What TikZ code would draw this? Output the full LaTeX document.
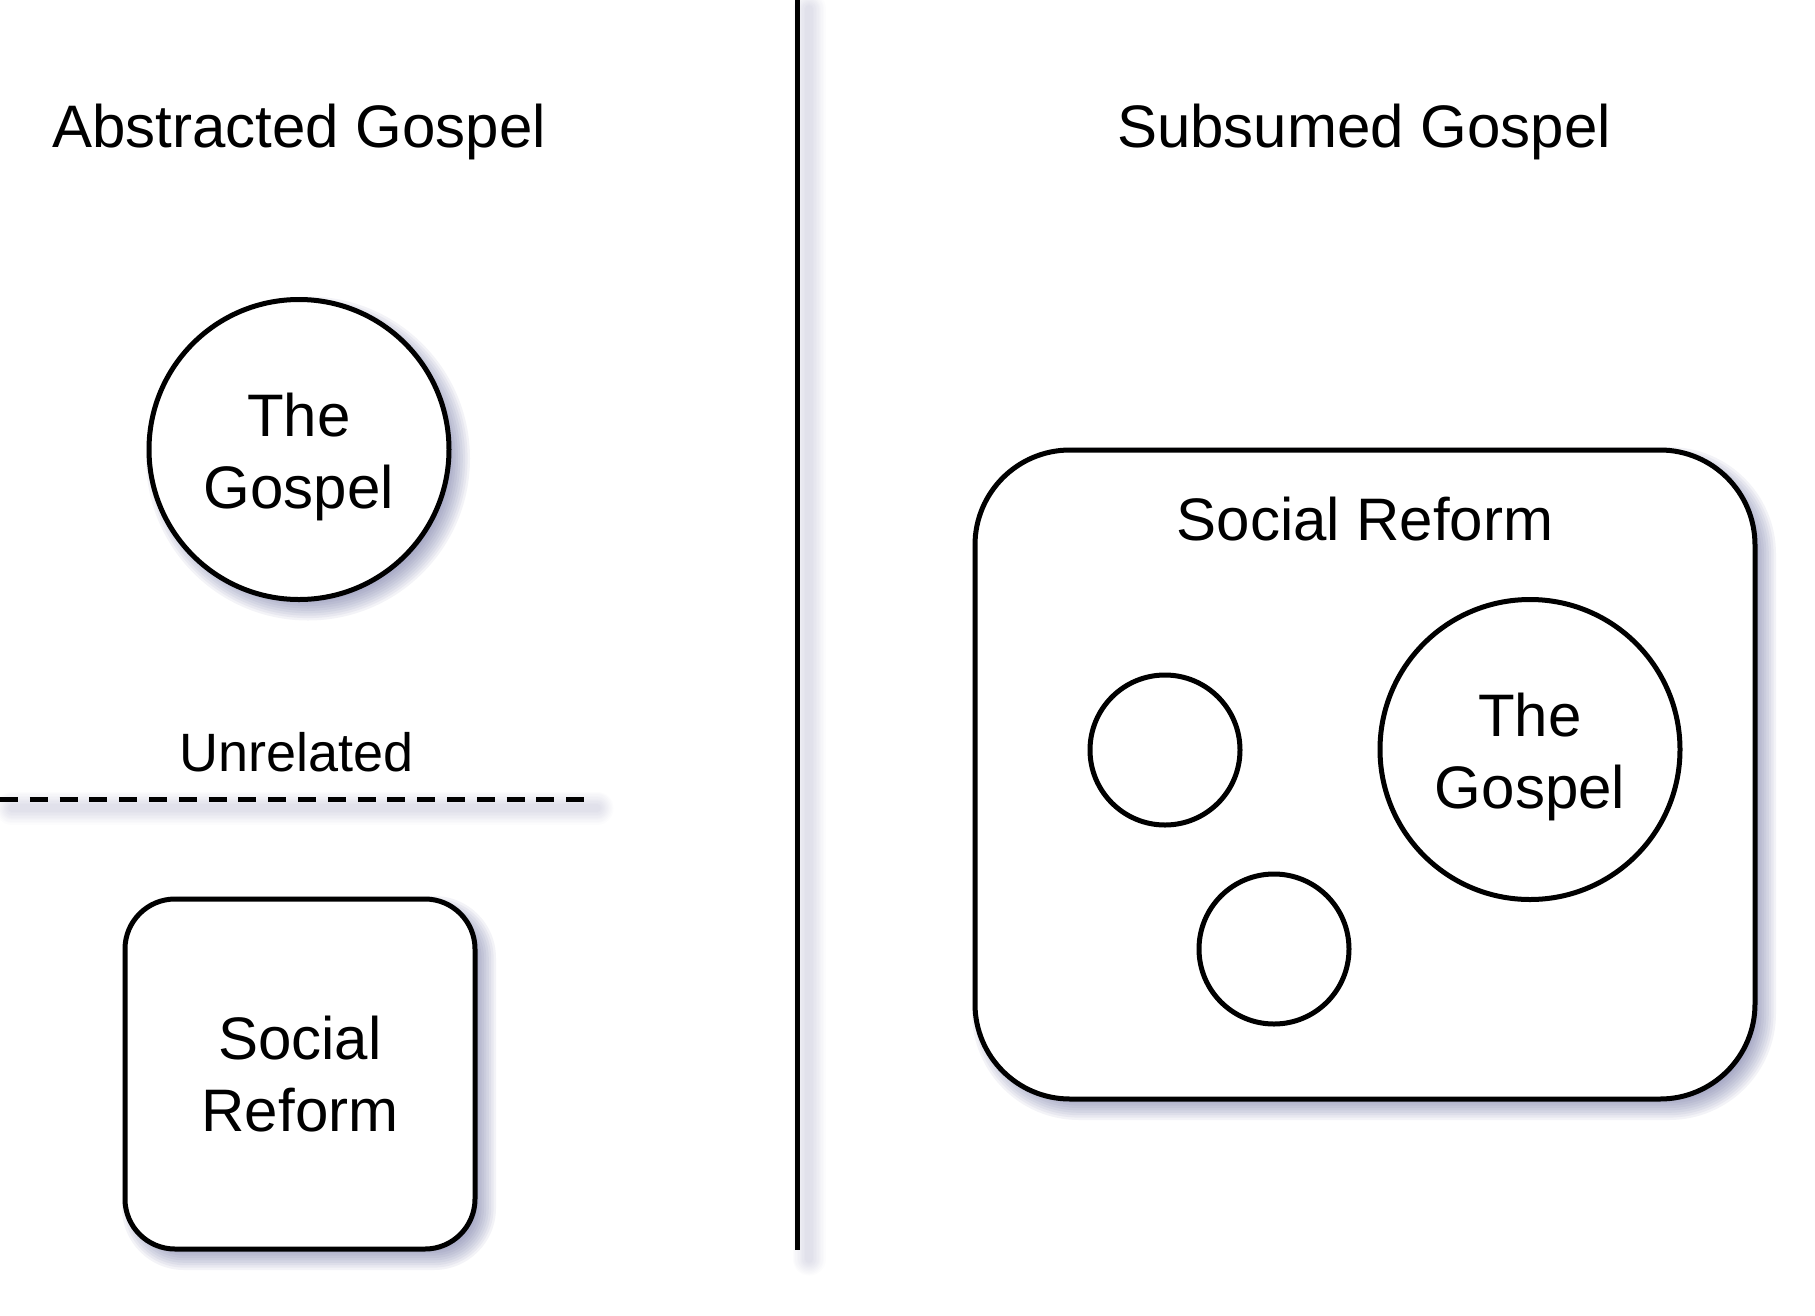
\documentclass[tikz,border=0pt]{standalone}
\usepackage{fontspec}
\setmainfont{Liberation Sans}
\usetikzlibrary{backgrounds}
\definecolor{shadowc}{RGB}{90,95,150}
\newcommand{\circshadow}[2]{%
  \foreach \k [evaluate=\k as \rr using {#2+12-2.4*\k}] in {0,...,9}{%
    \fill[shadowc, opacity=0.07] ([shift={(9,9)}]#1.center) circle[radius={\rr*1pt}];}}
\newcommand{\rectshadow}[2]{%
  \foreach \k [evaluate=\k as \aa using {9-12+2.4*\k}, evaluate=\k as \bb using {9+12-2.4*\k}, evaluate=\k as \rc using {max(#2+12-2.4*\k,1)}] in {0,...,9}{%
    \fill[shadowc, opacity=0.07, rounded corners=\rc pt] ([shift={(\aa,\aa)}]#1.north west) rectangle ([shift={(\bb,\bb)}]#1.south east);}}
\newcommand{\lineshadow}[3]{%
  \foreach \k [evaluate=\k as \ww using {5+28-2.8*\k}] in {0,...,9}{%
    \draw[shadowc, opacity=#3, line width=\ww pt, line cap=round] ([shift={(12,9)}]#1) -- ([shift={(12,9)}]#2);}}
\begin{document}
\begin{tikzpicture}[x=1pt,y=-1pt,
  shapebox/.style={draw=black, line width=5pt, fill=white, inner sep=0pt, outer sep=0pt},
  bigtxt/.style={font=\fontsize{60}{72}\selectfont, inner sep=0pt, outer sep=0pt, align=center},
  smalltxt/.style={font=\fontsize{54}{64}\selectfont, inner sep=0pt, outer sep=0pt},
  rule/.style={draw=black, line width=5pt}]
\useasboundingbox (0,0) rectangle (1815,1315);

% titles
\node[bigtxt, anchor=base] (t1) at (299,147) {Abstracted Gospel};
\node[bigtxt, anchor=base] (t2) at (1364,147) {Subsumed Gospel};

% separators
\coordinate (v1) at (797,0);
\coordinate (v2) at (797,1250);
\draw[rule] (v1) -- (v2);
\coordinate (d1) at (0,799);
\coordinate (d2) at (585,799);
\draw[rule, dash pattern=on 18pt off 11.8pt] (d1) -- (d2);
\node[smalltxt, anchor=base] (unrel) at (297,771) {Unrelated};

% left side
\node[shapebox, circle, minimum size=300pt] (g1) at (299,449.5) {};
\node[bigtxt] (g1t) at ([yshift=-7.5pt]g1.center) {The\\Gospel};
\node[shapebox, rectangle, rounded corners=50pt, minimum width=350pt, minimum height=350pt, bigtxt] (sr1) at (300,1074) {Social\\Reform};

% right side
\node[shapebox, rectangle, rounded corners=95pt, minimum width=780pt, minimum height=649pt] (sr2) at (1365,774.5) {};
\node[bigtxt, anchor=base] (sr2t) at (1365,540) {Social Reform};
\node[shapebox, circle, minimum size=150pt] (c1) at (1165,750) {};
\node[shapebox, circle, minimum size=150pt] (c2) at (1274,949) {};
\node[shapebox, circle, minimum size=300pt] (g2) at (1530,749.5) {};
\node[bigtxt] (g2t) at ([yshift=-7.5pt]g2.center) {The\\Gospel};

\begin{pgfonlayer}{background}
  \fill[white] (0,0) rectangle (1815,1315);
  \circshadow{g1}{150}
  \rectshadow{sr1}{50}
  \rectshadow{sr2}{95}
  \lineshadow{v1}{v2}{0.016}
  \lineshadow{d1}{d2}{0.014}
\end{pgfonlayer}
\end{tikzpicture}
\end{document}
